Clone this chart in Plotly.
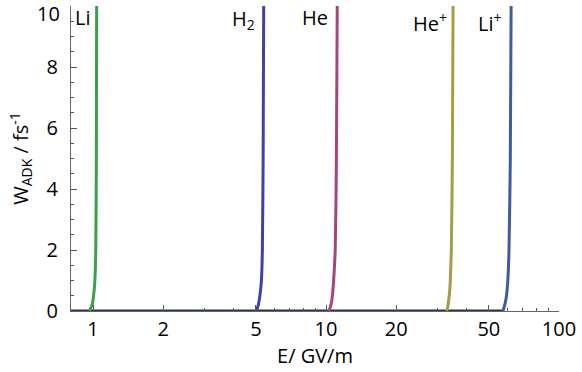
import math
import plotly.graph_objects as go

# ---- data ----
W_levels = [0, 0.2, 0.5, 1, 2, 5, 10]           # W_ADK / fs^-1

E_Li     = [0.965, 0.99, 1.005, 1.018, 1.027, 1.033, 1.036]
E_H2     = [5.02, 5.12, 5.20, 5.28, 5.33, 5.37, 5.40]
E_He     = [10.3, 10.5, 10.65, 10.78, 10.95, 11.08, 11.17]
E_Hep    = [33.0, 33.4, 33.8, 34.15, 34.5, 34.85, 35.1]
E_Lip    = [57.5, 58.5, 59.5, 60.3, 61.0, 61.8, 62.3]

baseline_E = [0.78, 57.5]
baseline_W = [0, 0]

series_names  = ["Li", "H2", "He", "He+", "Li+"]
series_E      = [E_Li, E_H2, E_He, E_Hep, E_Lip]
series_colors = ["#3aa04a", "#4040a8", "#a8447c", "#a89a48", "#3c5ca8"]

label_text = ["Li", "H<sub>2</sub>", "He", "He<sup>+</sup>", "Li<sup>+</sup>"]
label_E    = [0.995, 5.03, 10.45, 33.6, 58.3]
label_W    = [9.62, 9.55, 9.62, 9.45, 9.45]

x_tickvals  = [1, 2, 5, 10, 20, 50, 100]
x_minorvals = [3, 4, 6, 7, 8, 9, 30, 40, 60, 70, 80, 90]
y_tickvals  = [0, 2, 4, 6, 8, 10]
y_toplabel_W = 9.74     # where the "10" label sits (pushed down inside the page)

FONT = "Open Sans"

fig = go.Figure()

fig.add_trace(go.Scatter(x=baseline_E, y=baseline_W, mode="lines",
                         line=dict(color="#24345f", width=3),
                         showlegend=False, hoverinfo="skip"))

for name, E, col in zip(series_names, series_E, series_colors):
    fig.add_trace(go.Scatter(x=E, y=W_levels, mode="lines", name=name,
                             line=dict(color=col, width=3, shape="spline", smoothing=0.6),
                             showlegend=False))

for txt, e, w in zip(label_text, label_E, label_W):
    fig.add_annotation(x=math.log10(e), y=w, xref="x", yref="y", text=txt,
                       showarrow=False, xanchor="right", yanchor="middle",
                       font=dict(family=FONT, size=20, color="black"))

# top y tick label (would be cut by the page edge if left to the axis)
fig.add_annotation(x=0, y=y_toplabel_W, xref="paper", yref="y",
                   text=str(y_tickvals[-1]), showarrow=False,
                   xanchor="right", yanchor="middle", xshift=-11,
                   borderpad=0, borderwidth=0,
                   font=dict(family=FONT, size=20, color="black"))

fig.update_layout(
    width=582, height=372,
    margin=dict(l=71, r=20, t=6, b=61),
    plot_bgcolor="white", paper_bgcolor="white",
    font=dict(family=FONT, size=20, color="black"),
    xaxis=dict(type="log", range=[math.log10(0.804), 2.0],
               tickvals=x_tickvals, ticktext=[str(v) for v in x_tickvals],
               ticks="inside", ticklen=6, tickwidth=1, tickcolor="#555",
               showline=True, linecolor="#666", linewidth=1,
               showgrid=False, zeroline=False,
               minor=dict(tickvals=x_minorvals, ticks="inside", ticklen=3,
                          tickcolor="#555", showgrid=False),
               tickfont=dict(size=20),
               title=dict(text="E/ GV/m", font=dict(size=20), standoff=2)),
    yaxis=dict(range=[0, 10.001], tickvals=y_tickvals,
               ticktext=[str(v) if v != y_tickvals[-1] else "" for v in y_tickvals],
               ticks="inside", ticklen=6, tickwidth=1, tickcolor="#555",
               showline=True, linecolor="#666", linewidth=1,
               showgrid=False, zeroline=False,
               minor=dict(dtick=0.5, ticks="inside", ticklen=3,
                          tickcolor="#555", showgrid=False),
               tickfont=dict(size=20), ticklabelstandoff=8,
               title=dict(text="W<sub>ADK</sub> / fs<sup>-1</sup>",
                          font=dict(size=20), standoff=12)),
)

fig.write_html("out.html")
